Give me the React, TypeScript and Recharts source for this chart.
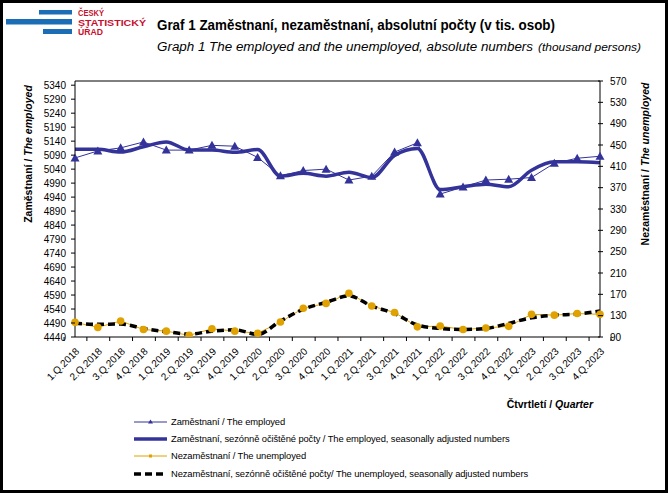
import React from 'react';
import { LineChart, Line, XAxis, YAxis, ReferenceLine } from 'recharts';

const quarters = [
  '1.Q.2018', '2.Q.2018', '3.Q.2018', '4.Q.2018',
  '1.Q.2019', '2.Q.2019', '3.Q.2019', '4.Q.2019',
  '1.Q.2020', '2.Q.2020', '3.Q.2020', '4.Q.2020',
  '1.Q.2021', '2.Q.2021', '3.Q.2021', '4.Q.2021',
  '1.Q.2022', '2.Q.2022', '3.Q.2022', '4.Q.2022',
  '1.Q.2023', '2.Q.2023', '3.Q.2023', '4.Q.2023',
];
const employed = [5080, 5105, 5116, 5137, 5108, 5108, 5125, 5122, 5082, 5016, 5035, 5040, 5001, 5015, 5101, 5134, 4951, 4976, 5001, 5004, 5010, 5061, 5079, 5086];
const employedSA = [5111, 5111, 5101, 5120, 5137, 5108, 5108, 5100, 5110, 5015, 5025, 5015, 5029, 5010, 5089, 5114, 4967, 4977, 4986, 4977, 5036, 5066, 5066, 5063];
const unemployed = [117.5, 108, 120, 104, 101, 93, 105.5, 101, 97, 118, 144, 153, 172, 148, 136, 109, 110.5, 104, 107, 110, 132.5, 131, 134, 132.5];
const unemployedSA = [115.6, 113.8, 114.3, 106, 100, 95.5, 101, 103.6, 95, 120, 142, 155, 167, 148, 134, 112.5, 106, 104, 106, 115.6, 126, 131, 133, 138.6];

const leftTicks = [4440, 4490, 4540, 4590, 4640, 4690, 4740, 4790, 4840, 4890, 4940, 4990, 5040, 5090, 5140, 5190, 5240, 5290, 5340];
const rightTicks = [90, 130, 170, 210, 250, 290, 330, 370, 410, 450, 490, 530, 570];

const legendLabels = [
  'Zaměstnaní / The employed',
  'Zaměstnaní, sezónně očištěné počty / The employed, seasonally adjusted numbers',
  'Nezaměstnaní / The unemployed',
  'Nezaměstnaní, sezónně očištěné počty/ The unemployed, seasonally adjusted numbers',
];

const data = quarters.map((q, i) => ({
  q,
  employed: employed[i],
  employedSA: employedSA[i],
  unemployed: unemployed[i],
  unemployedSA: unemployedSA[i],
}));

const W = 668;
const H = 493;
const BLUE = '#333399';
const GOLD = '#E0A200';
const FONT = '"Liberation Sans", Arial, sans-serif';
const NARROW = '"Liberation Sans Narrow", "Liberation Sans", Arial, sans-serif';
const PLOT_L = 75;
const PLOT_R = 600;
const BAND = (PLOT_R - PLOT_L) / quarters.length;

const Triangle = (props: any) => {
  const { cx, cy } = props;
  if (cx == null || cy == null) return null;
  return <path d={`M${cx},${cy - 4.5} L${cx + 4.5},${cy + 3.5} L${cx - 4.5},${cy + 3.5} Z`} fill={BLUE} stroke="none" />;
};

const Dot = (props: any) => {
  const { cx, cy } = props;
  if (cx == null || cy == null) return null;
  return <circle cx={cx} cy={cy} r={3.8} fill={GOLD} stroke="none" />;
};

const XTick = (props: any) => {
  const { x, y, payload, index } = props;
  const tx = x + 5;
  const ty = y + 15;
  return (
    <g>
      <line x1={x - BAND / 2} x2={x - BAND / 2} y1={y} y2={y + 4} stroke="#000" />
      {index === quarters.length - 1 && (
        <line x1={x + BAND / 2} x2={x + BAND / 2} y1={y} y2={y + 4} stroke="#000" />
      )}
      <text x={tx} y={ty} textAnchor="end" fontSize={10} fontFamily={FONT} fill="#000" transform={`rotate(-45, ${tx}, ${ty})`}>
        {payload.value}
      </text>
    </g>
  );
};

const LeftTick = (props: any) => {
  const { x, y, payload } = props;
  return (
    <g>
      <line x1={x - 4} x2={x} y1={y} y2={y} stroke="#000" />
      <text x={x - 9} y={y + 3.5} textAnchor="end" fontSize={10} fontFamily={FONT} fill="#000">{payload.value}</text>
    </g>
  );
};

const RightTick = (props: any) => {
  const { x, y, payload } = props;
  return (
    <g>
      <line x1={x - 2} x2={x + 3} y1={y} y2={y} stroke="#000" />
      <text x={x + 10} y={y + 3.5} textAnchor="start" fontSize={10} fontFamily={FONT} fill="#000">{payload.value}</text>
    </g>
  );
};

const LegendBox = () => {
  const samples = [
    <g>
      <line x1={0} x2={33} y1={6} y2={6} stroke={BLUE} strokeWidth={1} />
      <path d="M16.5,3.5 L19,7.5 L14,7.5 Z" fill={BLUE} />
    </g>,
    <line x1={0} x2={33} y1={6} y2={6} stroke={BLUE} strokeWidth={3.5} />,
    <g>
      <line x1={0} x2={33} y1={6} y2={6} stroke={GOLD} strokeWidth={1} />
      <rect x={15} y={4.5} width={3} height={3} fill={GOLD} />
    </g>,
    <line x1={0} x2={33} y1={6} y2={6} stroke="#000" strokeWidth={3.5} strokeDasharray="7 4" />,
  ];
  return (
    <div style={{ position: 'absolute', left: 134, top: 413, fontFamily: FONT, fontSize: 9.4, color: '#000', lineHeight: '12px' }}>
      {legendLabels.map((l, i) => (
        <div key={i} style={{ display: 'flex', alignItems: 'center', height: 17.3 }}>
          <svg width={37} height={12} style={{ display: 'block' }}>{samples[i]}</svg>
          <span style={{ whiteSpace: 'nowrap', letterSpacing: -0.1 }}>{l}</span>
        </div>
      ))}
    </div>
  );
};

export default function App() {
  return (
    <div style={{ position: 'absolute', left: 0, top: 0, width: W, height: H, background: '#fff' }}>
      <LineChart width={W} height={H} data={data} margin={{ top: 81, right: 23, bottom: 96, left: 15 }}>
        <XAxis dataKey="q" interval={0} tickLine={false} tickSize={0} tickMargin={0} tick={<XTick />} height={60} axisLine={{ stroke: '#000' }} />
        <YAxis yAxisId="left" orientation="left" domain={[4440, 5355]} ticks={leftTicks} interval={0} width={60} tickLine={false} tickSize={0} tickMargin={0} tick={<LeftTick />} axisLine={{ stroke: '#000' }} allowDataOverflow />
        <YAxis yAxisId="right" orientation="right" domain={[90, 570]} ticks={rightTicks} interval={0} width={45} tickLine={false} tickSize={0} tickMargin={0} tick={<RightTick />} axisLine={{ stroke: '#000' }} allowDataOverflow />
        <ReferenceLine yAxisId="left" y={5355} stroke="#000" strokeWidth={1} />
        <Line yAxisId="left" dataKey="employed" type="linear" stroke={BLUE} strokeWidth={1} dot={<Triangle />} activeDot={false} isAnimationActive={false} />
        <Line yAxisId="left" dataKey="employedSA" type="monotone" stroke={BLUE} strokeWidth={3.5} dot={false} activeDot={false} isAnimationActive={false} />
        <Line yAxisId="right" dataKey="unemployed" type="linear" stroke={GOLD} strokeWidth={1} dot={<Dot />} activeDot={false} isAnimationActive={false} />
        <Line yAxisId="right" dataKey="unemployedSA" type="monotone" stroke="#000" strokeWidth={3.5} strokeDasharray="7 4" dot={false} activeDot={false} isAnimationActive={false} />
      </LineChart>
      <LegendBox />
      <svg width={W} height={H} style={{ position: 'absolute', left: 0, top: 0, pointerEvents: 'none' }}>
        <rect x={1.5} y={1.5} width={W - 3} height={H - 3} fill="none" stroke="#000" strokeWidth={3} />
        <rect x={39} y={10} width={33} height={4.5} fill="#1B6EB5" />
        <rect x={6} y={19} width={66} height={5.5} fill="#1B6EB5" />
        <rect x={43} y={29} width={29} height={5} fill="#1B6EB5" />
        <text x={78} y={15.5} fontSize={9.5} fontWeight="bold" fontFamily={FONT} fill="#C8102E" textLength={26} lengthAdjust="spacingAndGlyphs">ČESKÝ</text>
        <text x={78} y={25.5} fontSize={9.5} fontWeight="bold" fontFamily={FONT} fill="#C8102E" textLength={68} lengthAdjust="spacingAndGlyphs">STATISTICKÝ</text>
        <text x={78} y={35} fontSize={9.5} fontWeight="bold" fontFamily={FONT} fill="#C8102E" textLength={25} lengthAdjust="spacingAndGlyphs">ÚŘAD</text>
        <text x={157} y={30} fontSize={14.5} fontWeight="bold" fontFamily={NARROW} fill="#000" textLength={398} lengthAdjust="spacingAndGlyphs">Graf 1  Zaměstnaní, nezaměstnaní, absolutní počty (v tis. osob)</text>
        <text x={157} y={51} fontSize={12.5} fontStyle="italic" fontFamily={NARROW} fill="#000" textLength={376} lengthAdjust="spacingAndGlyphs">Graph 1  The employed  and the unemployed,  absolute numbers</text>
        <text x={538} y={51} fontSize={10.5} fontStyle="italic" fontFamily={NARROW} fill="#000" textLength={103} lengthAdjust="spacingAndGlyphs">(thousand persons)</text>
        <text x={32} y={154} transform="rotate(-90, 32, 154)" textAnchor="middle" fontSize={10.5} fontWeight="bold" fontFamily={FONT} fill="#000">
          Zaměstnaní / <tspan fontStyle="italic">The employed</tspan>
        </text>
        <text x={649} y={164} transform="rotate(-90, 649, 164)" textAnchor="middle" fontSize={10.5} fontWeight="bold" fontFamily={FONT} fill="#000">
          Nezaměstnaní / <tspan fontStyle="italic">The unemployed</tspan>
        </text>
        <text x={593} y={408} textAnchor="end" fontSize={10.5} fontWeight="bold" fontFamily={FONT} fill="#000">
          Čtvrtletí / <tspan fontStyle="italic">Quarter</tspan>
        </text>
      </svg>
    </div>
  );
}
